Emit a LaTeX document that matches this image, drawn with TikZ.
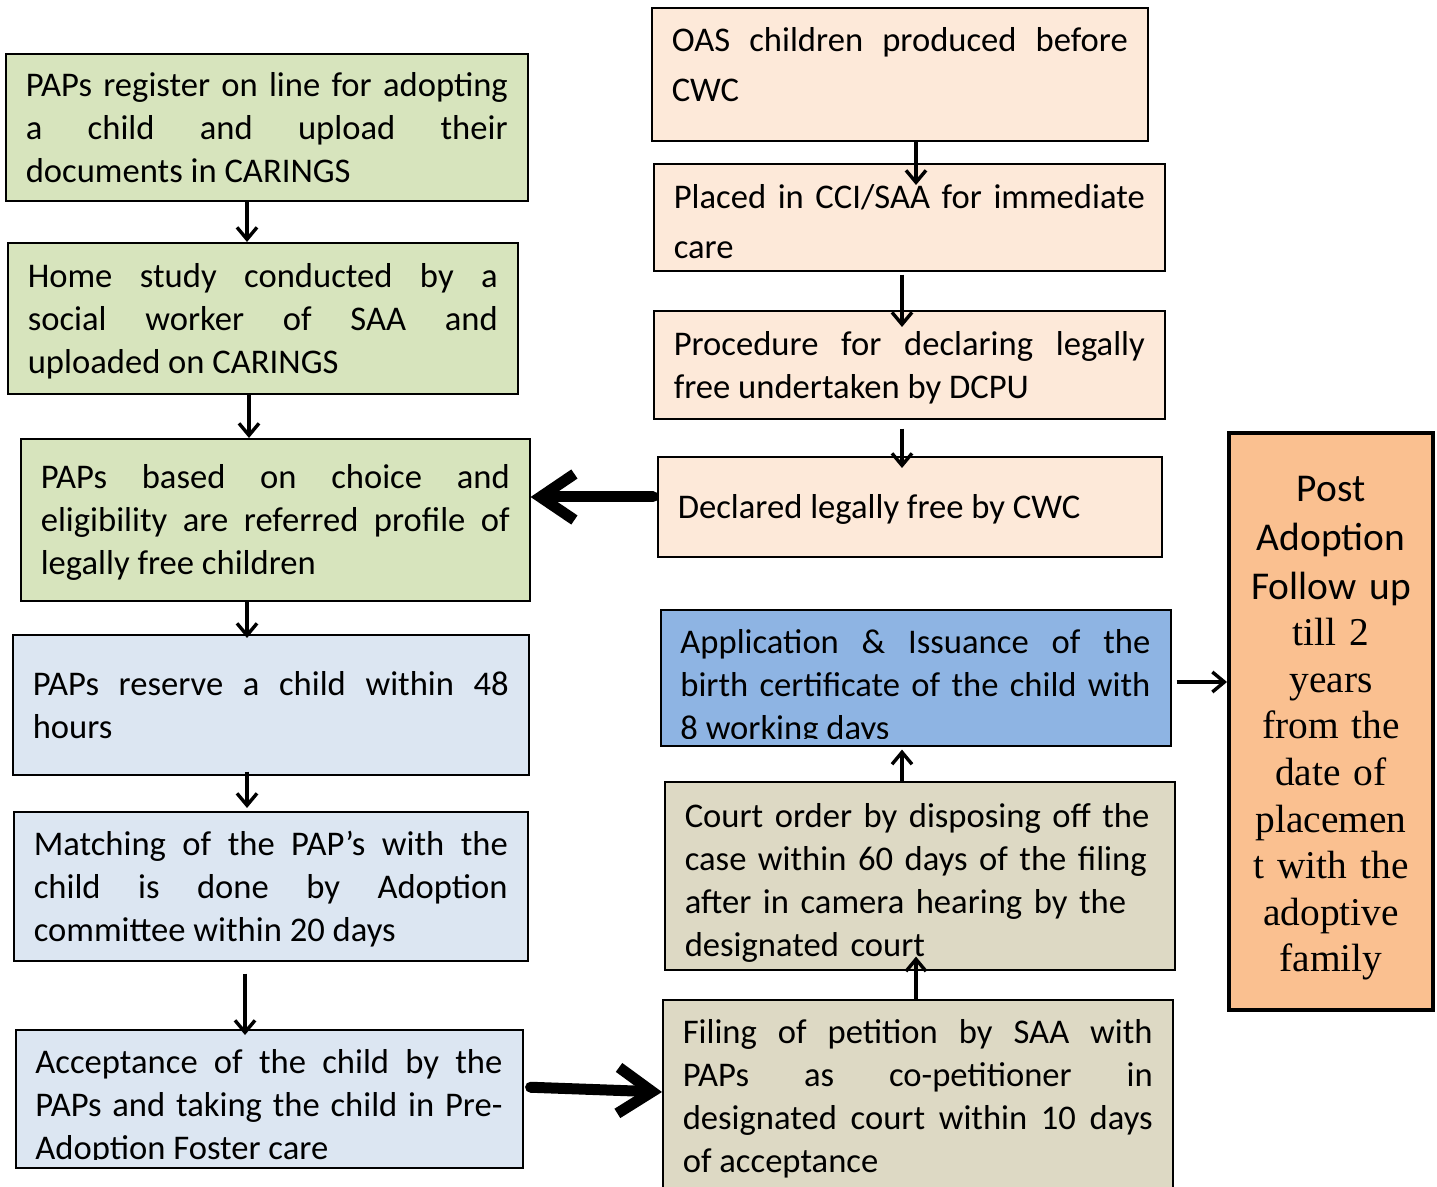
\documentclass[tikz,border=0pt]{standalone}
\usepackage{fontspec}
\setmainfont{Carlito}
\newfontfamily\timesfont{Liberation Serif}
\usetikzlibrary{arrows.meta}

\definecolor{papgreen}{HTML}{D7E4BD}
\definecolor{papblue}{HTML}{DCE6F2}
\definecolor{childpeach}{HTML}{FDE9D9}
\definecolor{certblue}{HTML}{8EB4E3}
\definecolor{courttan}{HTML}{DDD9C4}
\definecolor{postorange}{HTML}{FAC090}

\tolerance=10000
\hyphenpenalty=10000
\exhyphenpenalty=10000

\begin{document}
\begin{tikzpicture}[x=0.5pt, y=-0.5pt,
    box/.style={draw, line width=0.8pt, anchor=north west, inner xsep=10pt, inner ysep=3pt,
                align=justify, font=\fontsize{17.3}{21.5}\selectfont,
                execute at end node={\endgraf\kern-\prevdepth}},
    boxtext/.style={anchor=north west, inner xsep=10pt, inner ysep=10pt,
                align=justify, font=\fontsize{17.3}{21.5}\selectfont},
    flow/.style={-{Straight Barb[length=6pt, width=10pt]}, line width=1.7pt},
    bigflow/.style={-{Straight Barb[length=17pt, width=23pt]}, line width=5.5pt, line cap=round}]
  \useasboundingbox (0,0) rectangle (1437,1187);

  % PAPs column
  \node[box, fill=papgreen, text width=241pt, minimum height=73.5pt] (register) at (5,53)
    {PAPs register on line for adopting\linebreak a child and upload their\linebreak documents in CARINGS};
  \node[box, fill=papgreen, text width=235pt, minimum height=75.5pt] (home) at (7,242)
    {Home study conducted by a\linebreak social worker of SAA and\linebreak uploaded on CARINGS};
  \node[box, fill=papgreen, text width=234.5pt, minimum height=81pt] (based) at (20,438)
    {PAPs based on choice and\linebreak eligibility are referred profile of\linebreak legally free children};
  \node[box, fill=papblue, text width=238pt, minimum height=70pt] (reserve) at (12,634)
    {PAPs reserve a child within 48\linebreak hours};
  \node[box, fill=papblue, text width=237pt, minimum height=74.5pt] (match) at (13,811)
    {Matching of the PAP's with the\linebreak child is done by Adoption\linebreak committee within 20 days};
  \node[box, fill=papblue, text width=233.5pt, minimum height=69pt] (accept) at (15,1029) {};
  \begin{scope}
    \clip (accept.north west) rectangle ([yshift=4.5pt]accept.south east);
    \node[boxtext, text width=233.5pt] (accepttext) at (accept.north west)
      {Acceptance of the child by the\linebreak PAPs and taking the child in Pre-\linebreak Adoption Foster care};
  \end{scope}

  % child column
  \node[box, fill=childpeach, text width=228pt, minimum height=66.5pt, text depth=34.5pt,
        font=\fontsize{17.3}{24.75}\selectfont] (oas) at (651,7)
    {OAS children produced before\linebreak CWC};
  \node[box, fill=childpeach, text width=235.5pt, minimum height=53.5pt, text height=16pt,
        font=\fontsize{17.3}{25}\selectfont] (placed) at (653,163)
    {Placed in CCI/SAA for immediate\linebreak care};
  \node[box, fill=childpeach, text width=235.5pt, minimum height=54pt] (proc) at (653,310)
    {Procedure for declaring legally\linebreak free undertaken by DCPU};
  \node[box, fill=childpeach, text width=232pt, minimum height=50pt] (legal) at (657,456)
    {Declared legally free by CWC};
  \node[box, fill=certblue, text width=235pt, minimum height=68pt] (birth) at (660,609) {};
  \begin{scope}
    \clip (birth.north west) rectangle ([yshift=4pt]birth.south east);
    \node[boxtext, text width=235pt] (birthtext) at (birth.north west)
      {Application \& Issuance of the\linebreak birth certificate of the child with\linebreak 8 working days};
  \end{scope}
  \node[box, fill=courttan, text width=235pt, minimum height=94pt, text height=16.3pt, align=left] (court) at (664,781)
    {Court order by disposing off the\\ case within 60 days of the filing\\ after in camera hearing by the\\ designated court};
  \node[box, fill=courttan, text width=235pt, inner ysep=10pt] (filing) at (662,999)
    {Filing of petition by SAA with\linebreak PAPs as co-petitioner in\linebreak designated court within 10 days\linebreak of acceptance};

  % follow up
  \node[box, fill=postorange, line width=2pt, align=center, text width=96pt, inner xsep=3pt,
        minimum height=288.5pt, text height=15.5pt, font=\fontsize{19.7}{23.3}\selectfont] (post) at (1227,431)
    {Post\\[1pt] Adoption\\[1pt] Follow up\\ {\timesfont till 2\\ years\\ from the\\ date of\\ placemen\\ t with the\\ adoptive\\ family}};

  \draw[flow] (register.south -| 247,0) -- (home.north -| 247,0);
  \draw[flow] (home.south -| 249,0) -- (based.north -| 249,0);
  \draw[flow, shorten >=-2pt] (based.south -| 247,0) -- (reserve.north -| 247,0);
  \draw[flow, shorten <=-2pt, shorten >=1.5pt] (reserve.south -| 247,0) -- (match.north -| 247,0);
  \draw[flow, shorten <=6pt, shorten >=-3pt] (match.south -| 245,0) -- (accept.north -| 245,0);

  \draw[flow, shorten >=-11pt] (oas.south -| 916,0) -- (placed.north -| 916,0);
  \draw[flow, shorten <=1.5pt, shorten >=-8.5pt] (placed.south -| 902,0) -- (proc.north -| 902,0);
  \draw[flow, shorten <=4.5pt, shorten >=-6pt] (proc.south -| 902,0) -- (legal.north -| 902,0);
  \draw[bigflow, shorten <=2pt] (legal.west |- 0,497) -- (based.east |- 0,497);
  \draw[bigflow, shorten <=3.5pt] (accept.east |- 0,1087) -- (filing.west |- 0,1092);
  \draw[flow, shorten >=-7pt] (filing.north -| 916,0) -- (court.south -| 916,0);
  \draw[flow, shorten >=1.5pt] (court.north -| 902,0) -- (birth.south -| 902,0);
  \draw[flow, shorten <=2.5pt] (birth.east |- 0,682) -- (post.west |- 0,682);
\end{tikzpicture}
\end{document}
